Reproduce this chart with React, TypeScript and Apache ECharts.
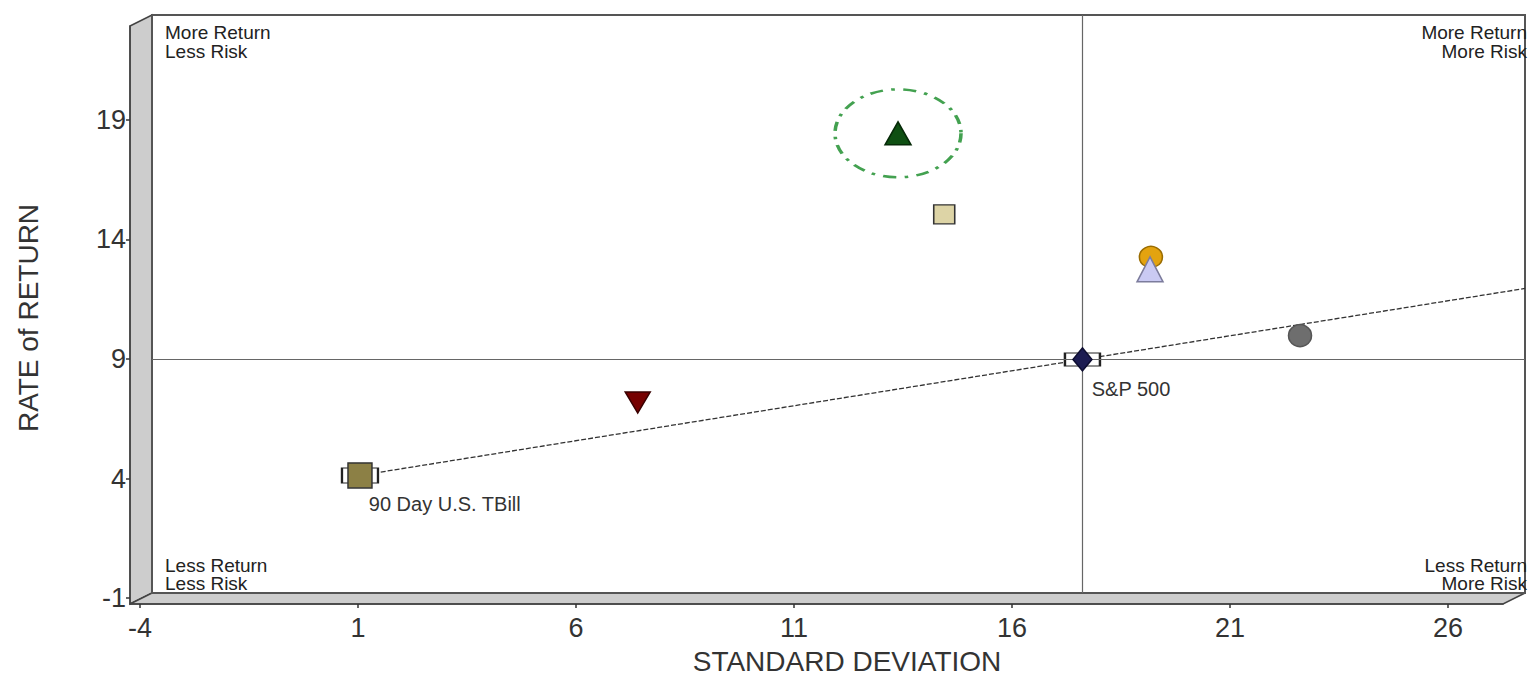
import React, { useEffect, useRef } from 'react';
import * as echarts from 'echarts';

// ---- data ----
const X_TICKS = [-4, 1, 6, 11, 16, 21, 26];
const Y_TICKS = [-1, 4, 9, 14, 19];
const X_MIN = -4.23;
const X_MAX = 27.26;
const Y_MIN = -1.25;
const Y_MAX = 22.93;

// [standard deviation, rate of return]
const highlightedFund = [12.88, 17.98];
const tanFund = [13.94, 14.59];
const orangeFund = [18.68, 12.81];
const lavenderFund = [18.66, 12.29];
const grayFund = [22.1, 9.52];
const redFund = [6.91, 6.72];
const sp500 = [17.11, 8.52];
const tbill = [0.54, 3.67];

const SP_LABEL = 'S&P 500';
const TBILL_LABEL = '90 Day U.S. TBill';
const X_TITLE = 'STANDARD DEVIATION';
const Y_TITLE = 'RATE of RETURN';
const CORNER_TL = ['More Return', 'Less Risk'];
const CORNER_TR = ['More Return', 'More Risk'];
const CORNER_BL = ['Less Return', 'Less Risk'];
const CORNER_BR = ['Less Return', 'More Risk'];

// ---- layout ----
const FONT = '"Liberation Sans", Arial, Helvetica, sans-serif';
const BACK = { left: 152, top: 15, w: 1373, h: 578 };
const DEPTH = { dx: -22, dy: 11 };
const WALL_FILL = '#cdcdcd';
const EDGE = '#444';

export default function App() {
  const ref = useRef<HTMLDivElement>(null);
  useEffect(() => {
    const chart = echarts.init(ref.current!, null, { renderer: 'svg' });

    const slope = (sp500[1] - tbill[1]) / (sp500[0] - tbill[0]);
    const cmlEnd = [X_MAX, tbill[1] + slope * (X_MAX - tbill[0])];

    const bx0 = BACK.left, by0 = BACK.top, bx1 = BACK.left + BACK.w, by1 = BACK.top + BACK.h;
    const fx0 = bx0 + DEPTH.dx, fy1 = by1 + DEPTH.dy, fy0 = by0 + DEPTH.dy, fx1 = bx1 + DEPTH.dx;

    const scatter = (data: number[], symbol: string, size: any, color: string, border: string, extra: any = {}) => ({
      type: 'scatter',
      xAxisIndex: 0,
      yAxisIndex: 0,
      data: [data],
      symbol,
      symbolSize: size,
      itemStyle: { color, borderColor: border, borderWidth: 1.5, opacity: 1 },
      z: 5,
      silent: true,
      ...extra,
    });

    const pointLabel = (text: string, posY: number) => ({
      show: true,
      formatter: text,
      position: [28, posY],
      align: 'left',
      verticalAlign: 'middle',
      fontSize: 20,
      fontFamily: FONT,
      color: '#333',
    });

    const cornerText = (lines: string[], x: number, yTop: number, align: string, gap: number) =>
      lines.map((t, i) => ({
        type: 'text',
        x,
        y: yTop + i * gap,
        z: 3,
        style: { text: t, font: `19px ${FONT}`, fill: '#222', align, verticalAlign: 'top' },
      }));

    const option: any = {
      animation: false,
      backgroundColor: '#ffffff',
      grid: [
        { left: BACK.left, top: BACK.top, width: BACK.w, height: BACK.h, containLabel: false, outerBoundsMode: 'none' },
        { left: fx0, top: fy0, width: BACK.w, height: BACK.h, containLabel: false, outerBoundsMode: 'none' },
      ],
      xAxis: [
        { gridIndex: 0, type: 'value', min: X_MIN, max: X_MAX, show: false, splitLine: { show: false } },
        {
          gridIndex: 1, type: 'value', min: X_MIN, max: X_MAX,
          axisLine: { show: true, onZero: false, lineStyle: { color: EDGE, width: 1.5 } },
          axisTick: { show: true, length: 4, customValues: X_TICKS, lineStyle: { color: '#333', width: 1.5 } },
          axisLabel: { customValues: X_TICKS, fontSize: 27, fontFamily: FONT, color: '#333', margin: 10 },
          splitLine: { show: false },
        },
      ],
      yAxis: [
        { gridIndex: 0, type: 'value', min: Y_MIN, max: Y_MAX, show: false, splitLine: { show: false } },
        {
          gridIndex: 1, type: 'value', min: Y_MIN, max: Y_MAX,
          axisLine: { show: true, onZero: false, lineStyle: { color: EDGE, width: 1.5 } },
          axisTick: { show: true, length: 4, customValues: Y_TICKS, lineStyle: { color: '#333', width: 1.5 } },
          axisLabel: { customValues: Y_TICKS, fontSize: 27, fontFamily: FONT, color: '#333', margin: 4 },
          splitLine: { show: false },
        },
      ],
      graphic: [
        {
          type: 'polygon', z: 0,
          shape: { points: [[fx0, fy0], [bx0, by0], [bx0, by1], [fx0, fy1]] },
          style: { fill: WALL_FILL, stroke: EDGE, lineWidth: 1.5 },
        },
        {
          type: 'polygon', z: 0,
          shape: { points: [[fx0, fy1], [bx0, by1], [bx1, by1], [fx1, fy1]] },
          style: { fill: WALL_FILL, stroke: EDGE, lineWidth: 1.5 },
        },
        {
          type: 'rect', z: 1,
          shape: { x: bx0, y: by0, width: BACK.w, height: BACK.h },
          style: { fill: 'none', stroke: '#555', lineWidth: 2 },
        },
        ...cornerText(CORNER_TL, bx0 + 13, by0 + 8, 'left', 19),
        ...cornerText(CORNER_TR, bx1 + 2, by0 + 8, 'right', 19),
        ...cornerText(CORNER_BL, bx0 + 13, by1 - 37, 'left', 18),
        ...cornerText(CORNER_BR, bx1 + 2, by1 - 37, 'right', 18),
        {
          type: 'text', x: 847, y: 661, z: 3,
          style: { text: X_TITLE, font: `28px ${FONT}`, fill: '#333', align: 'center', verticalAlign: 'middle' },
        },
        {
          type: 'text', x: 28, y: 318, rotation: Math.PI / 2, z: 3,
          style: { text: Y_TITLE, font: `28px ${FONT}`, fill: '#333', align: 'center', verticalAlign: 'middle' },
        },
      ],
      series: [
        {
          type: 'line',
          xAxisIndex: 0, yAxisIndex: 0,
          data: [tbill, cmlEnd],
          symbol: 'none',
          lineStyle: { color: '#333', width: 1.3, type: [5, 2] },
          z: 2,
          silent: true,
        },
        scatter(sp500, 'rect', [35, 13], '#ffffff', '#222', {
          z: 4,
          label: pointLabel(SP_LABEL, 36),
          markLine: {
            silent: true,
            symbol: ['none', 'none'],
            label: { show: false },
            lineStyle: { color: '#666', width: 1.2, type: 'solid' },
            data: [{ xAxis: sp500[0] }, { yAxis: sp500[1] }],
          },
        }),
        scatter(sp500, 'diamond', [19, 23], '#1c1c52', '#0d0d30'),
        scatter(tbill, 'rect', [36, 15], '#ffffff', '#222', { z: 4, label: pointLabel(TBILL_LABEL, 37) }),
        scatter(tbill, 'rect', [24, 25], '#8c8045', '#333'),
        scatter(highlightedFund, 'circle', [126, 88], 'rgba(0,0,0,0)', '#148a24', {
          itemStyle: { color: 'rgba(0,0,0,0)', borderColor: '#148a24', borderWidth: 3, borderType: [11, 7, 3, 7] },
        }),
        scatter(highlightedFund, 'triangle', [26, 23], '#0e4f12', '#062a08'),
        scatter(tanFund, 'rect', [21, 19], '#ddd4a6', '#333'),
        scatter(orangeFund, 'circle', [23, 21], '#e3a30f', '#9a6c00'),
        scatter(lavenderFund, 'triangle', [26, 25], '#cacaf3', '#7c7c9c'),
        scatter(grayFund, 'circle', [23, 22], '#6e6e6e', '#555'),
        scatter(redFund, 'triangle', [25, 21], '#760000', '#3a0000', { symbolRotate: 180 }),
      ],
    };

    chart.setOption(option);
    return () => chart.dispose();
  }, []);

  return (
    <div
      ref={ref}
      style={{ position: 'fixed', left: 0, top: 0, width: 1528, height: 677, background: '#fff' }}
    />
  );
}
